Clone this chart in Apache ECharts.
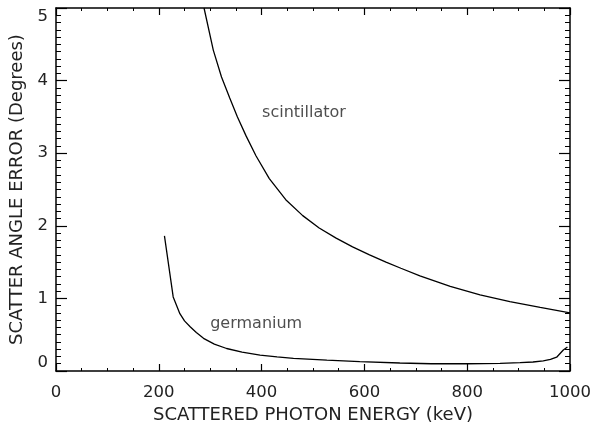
<!DOCTYPE html>
<html>
<head>
<meta charset="utf-8">
<script src="https://cdn.jsdelivr.net/npm/echarts@6/dist/echarts.min.js"></script>
<style>html,body{margin:0;padding:0;background:#fff}#c{width:594px;height:423px}</style>
</head>
<body>
<div id="c"></div>
<script>
const scintE = [288, 306, 322, 338, 353, 370, 389, 415, 447, 480, 512, 545, 577, 610, 642, 671, 708, 767, 825, 883, 942, 1000];
const scintV = [5.0, 4.42, 4.05, 3.76, 3.50, 3.235, 2.965, 2.65, 2.36, 2.14, 1.97, 1.83, 1.71, 1.60, 1.50, 1.415, 1.31, 1.165, 1.05, 0.955, 0.875, 0.80];
const gerE = [211, 228, 241, 250, 261, 273, 287, 308, 332, 362, 397, 430, 462, 527, 591, 669, 730, 800, 864, 903, 928, 948, 962, 974, 987, 995];
const gerV = [1.86, 1.02, 0.79, 0.69, 0.61, 0.53, 0.45, 0.37, 0.31, 0.26, 0.22, 0.195, 0.175, 0.15, 0.13, 0.11, 0.10, 0.10, 0.105, 0.115, 0.124, 0.14, 0.16, 0.19, 0.29, 0.33];
const labelTexts = ['scintillator', 'germanium'];
const labelE = [401, 300];
const labelV = [3.56, 0.65];
const xTickLabels = ['0', '200', '400', '600', '800', '1000'];
const yTickLabels = ['0', '1', '2', '3', '4', '5'];

const FONT = 'DejaVu Sans';
const txt = {fontFamily: FONT, fontSize: 16.5, color: '#222', fontWeight: 'normal'};
const nameTxt = {fontFamily: FONT, fontSize: 18, color: '#222', fontWeight: 'normal'};
const axLine = {show: true, onZero: false, lineStyle: {color: '#000', width: 1.5}};

function xAxisCfg(pos, showLabel) {
  return {
    type: 'value', min: 0, max: 1000, interval: 200, position: pos,
    axisLine: axLine,
    axisTick: {show: true, inside: true, length: 7, lineStyle: {color: '#000', width: 1.2}},
    minorTick: {show: true, splitNumber: 4, length: 3, lineStyle: {color: '#000', width: 1}},
    splitLine: {show: false}, minorSplitLine: {show: false},
    axisLabel: showLabel ? Object.assign({show: true, margin: 13, formatter: v => xTickLabels[Math.round(v / 200)]}, txt) : {show: false},
    name: showLabel ? 'SCATTERED PHOTON ENERGY (keV)' : '',
    nameLocation: 'middle', nameGap: 31,
    nameTextStyle: nameTxt
  };
}
function yAxisCfg(pos, showLabel) {
  return {
    type: 'value', min: 0, max: 5, interval: 1, position: pos,
    axisLine: axLine,
    axisTick: {show: true, inside: true, length: 11, lineStyle: {color: '#000', width: 1.2}},
    minorTick: {show: true, splitNumber: 10, length: 5, lineStyle: {color: '#000', width: 1}},
    splitLine: {show: false}, minorSplitLine: {show: false},
    axisLabel: showLabel ? Object.assign({show: true, margin: 8, verticalAlignMaxLabel: 'top', verticalAlignMinLabel: 'bottom',
      formatter: v => yTickLabels[Math.round(v)]}, txt) : {show: false},
    name: showLabel ? 'SCATTER ANGLE ERROR (Degrees)' : '',
    nameLocation: 'middle', nameGap: 26,
    nameTextStyle: nameTxt
  };
}

const chart = echarts.init(document.getElementById('c'), null, {renderer: 'canvas'});
chart.setOption({
  animation: false,
  backgroundColor: '#fff',
  grid: {left: 56, right: 24, top: 8, bottom: 52, containLabel: false, outerBoundsMode: 'none'},
  xAxis: [xAxisCfg('bottom', true), xAxisCfg('top', false)],
  yAxis: [yAxisCfg('left', true), yAxisCfg('right', false)],
  series: [
    {type: 'line', xAxisIndex: 0, yAxisIndex: 0, showSymbol: false, smooth: false, clip: true,
     lineStyle: {color: '#000', width: 1.3}, data: scintE.map((e, i) => [e, scintV[i]])},
    {type: 'line', xAxisIndex: 0, yAxisIndex: 0, showSymbol: false, smooth: false, clip: true,
     lineStyle: {color: '#000', width: 1.3}, data: gerE.map((e, i) => [e, gerV[i]])},
    {type: 'scatter', xAxisIndex: 0, yAxisIndex: 0, symbolSize: 0, silent: true,
     label: Object.assign({show: true, position: 'right', distance: 0, formatter: p => p.data[2]}, txt, {fontSize: 16}),
     data: labelTexts.map((t, i) => [labelE[i], labelV[i], t])}
  ]
});
</script>
</body>
</html>
